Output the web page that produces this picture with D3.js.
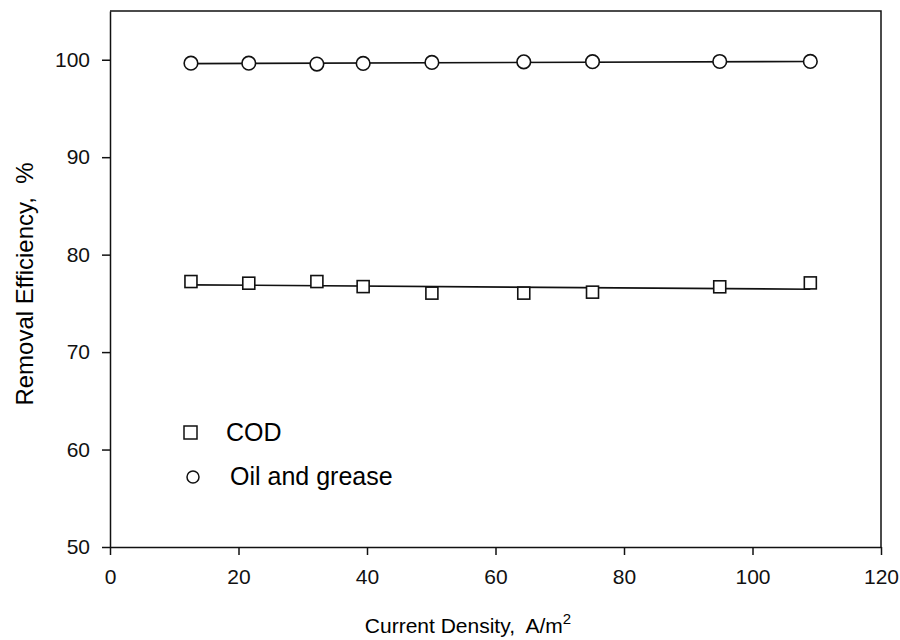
<!DOCTYPE html>
<html lang="en">
<head>
    <meta charset="UTF-8">
    <title>Removal Efficiency vs Current Density</title>
    <script src="https://cdnjs.cloudflare.com/ajax/libs/d3/7.8.5/d3.min.js"></script>
    <style>
        body {
            margin: 0;
            background: #fff;
        }
        svg {
            font-family: "Liberation Sans", Arial, Helvetica, sans-serif;
        }
        .axis path, .axis line {
            stroke: #111;
            stroke-width: 1.5px;
        }
        .axis text {
            font-size: 21px;
            fill: #111;
        }
    </style>
</head>
<body>
    <div id="chart"></div>

    <script>
        // Current density (A/m2) for each run
        const currentDensity = [12.6, 21.6, 32.2, 39.4, 50.1, 64.4, 75.1, 94.9, 109];
        // Removal efficiency, %
        const codRemoval = [77.24, 77.07, 77.24, 76.72, 76.05, 76.05, 76.15, 76.7, 77.1];
        const oilRemoval = [99.65, 99.65, 99.55, 99.62, 99.72, 99.78, 99.8, 99.82, 99.83];
        // fitted lines, ends
        const codFitX = [12.6, 109];
        const codFitY = [76.9, 76.45];
        const oilFitX = [12.6, 109];
        const oilFitY = [99.6, 99.82];

        const xTicks = [0, 20, 40, 60, 80, 100, 120];
        const yTicks = [50, 60, 70, 80, 90, 100];

        const width = 900, height = 640;
        const margin = { left: 110, right: 881, top: 11, bottom: 547 };

        const svg = d3.select("#chart")
            .append("svg")
            .attr("width", width)
            .attr("height", height);

        const x = d3.scaleLinear().domain([0, 120]).range([margin.left, margin.right]);
        const y = d3.scaleLinear().domain([50, 105]).range([margin.bottom, margin.top]);

        // frame (top + right sides)
        svg.append("path")
            .attr("d", `M${margin.left},${margin.top}H${margin.right}V${margin.bottom}`)
            .attr("fill", "none")
            .attr("stroke", "#111")
            .attr("stroke-width", 1.5);

        svg.append("g")
            .attr("class", "axis")
            .attr("transform", `translate(0,${margin.bottom})`)
            .call(d3.axisBottom(x).tickValues(xTicks).tickSize(8).tickPadding(14).tickSizeOuter(0));

        svg.append("g")
            .attr("class", "axis")
            .attr("transform", `translate(${margin.left},0)`)
            .call(d3.axisLeft(y).tickValues(yTicks).tickSize(8).tickPadding(12).tickSizeOuter(0));

        // fit lines
        const line = d3.line().x(d => x(d[0])).y(d => y(d[1]));
        const fits = [d3.zip(codFitX, codFitY), d3.zip(oilFitX, oilFitY)];
        svg.selectAll(".fit")
            .data(fits)
            .enter()
            .append("path")
            .attr("class", "fit")
            .attr("d", line)
            .attr("fill", "none")
            .attr("stroke", "#111")
            .attr("stroke-width", 1.6);

        // COD squares
        const sq = 12;
        svg.selectAll(".cod")
            .data(d3.zip(currentDensity, codRemoval))
            .enter()
            .append("rect")
            .attr("class", "cod")
            .attr("x", d => x(d[0]) - sq / 2)
            .attr("y", d => y(d[1]) - sq / 2)
            .attr("width", sq)
            .attr("height", sq)
            .attr("fill", "#fff")
            .attr("stroke", "#111")
            .attr("stroke-width", 1.6);

        // oil and grease circles
        svg.selectAll(".oil")
            .data(d3.zip(currentDensity, oilRemoval))
            .enter()
            .append("circle")
            .attr("class", "oil")
            .attr("cx", d => x(d[0]))
            .attr("cy", d => y(d[1]))
            .attr("r", 6.8)
            .attr("fill", "#fff")
            .attr("stroke", "#111")
            .attr("stroke-width", 1.6);

        // legend
        const legend = svg.append("g");
        legend.append("rect")
            .attr("x", 184).attr("y", 426)
            .attr("width", 13).attr("height", 13)
            .attr("fill", "#fff").attr("stroke", "#111").attr("stroke-width", 1.5);
        legend.append("text")
            .attr("x", 226).attr("y", 441)
            .attr("font-size", 25)
            .text("COD");
        legend.append("circle")
            .attr("cx", 193).attr("cy", 477).attr("r", 6)
            .attr("fill", "#fff").attr("stroke", "#111").attr("stroke-width", 1.5);
        legend.append("text")
            .attr("x", 230).attr("y", 485)
            .attr("font-size", 25)
            .text("Oil and grease");

        // axis titles
        const xt = svg.append("text")
            .attr("x", 468)
            .attr("y", 633)
            .attr("text-anchor", "middle")
            .attr("font-size", 21)
            .attr("xml:space", "preserve");
        xt.append("tspan").text("Current Density,  A/m");
        xt.append("tspan").attr("font-size", 15).attr("dy", -9).text("2");

        svg.append("text")
            .attr("transform", `translate(33,284) rotate(-90)`)
            .attr("text-anchor", "middle")
            .attr("font-size", 24)
            .attr("xml:space", "preserve")
            .text("Removal Efficiency,  %");
    </script>
</body>
</html>
